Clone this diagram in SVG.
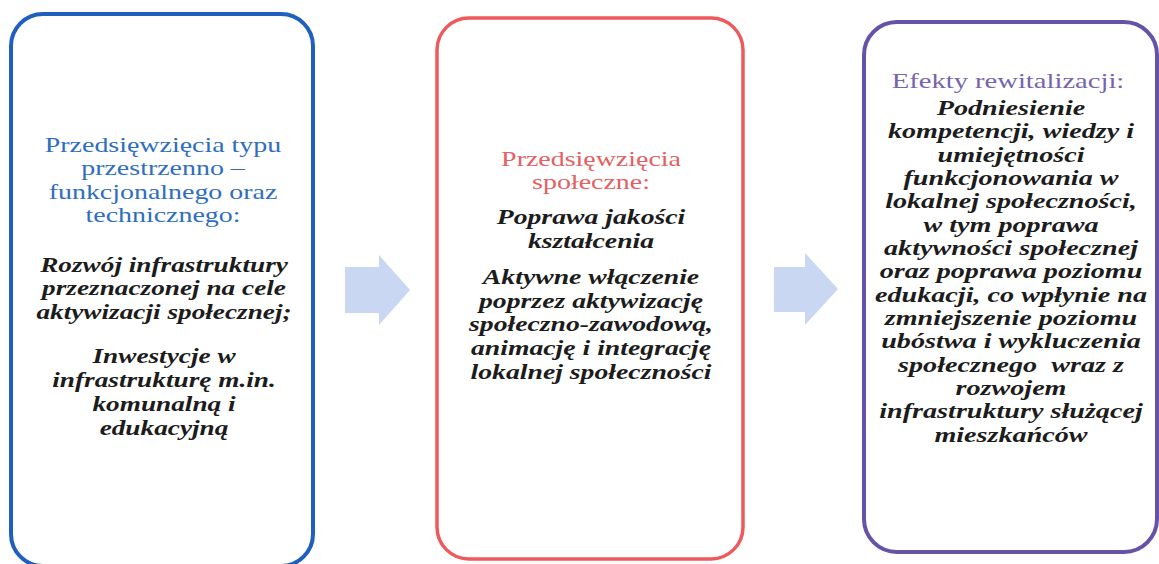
<svg xmlns="http://www.w3.org/2000/svg" width="1159" height="564" viewBox="0 0 1159 564">
<style>
.box{fill:#ffffff;stroke-width:4}
.b1{stroke:#1f5fbd}
.b2{stroke:#ee5a5c;stroke-width:3.5}
.b3{stroke:#6652a6}
.t{font-family:"Liberation Serif","Times New Roman",serif;font-size:22px;text-anchor:middle}
.i{font-style:italic;font-weight:bold;fill:#1c1c1c}
.h1{fill:#2f6ebf}
.h2{fill:#e45f62}
.h3{fill:#7565ad}
.arrow{fill:#cad7f3}
</style>
<rect width="1159" height="564" fill="#ffffff"/>
<g id="connectors">
<path class="arrow" d="M345,267 H379 V255 L410,290 L379,325 V313 H345 Z"/>
<path class="arrow" d="M774,267 H805 V253 L838,289 L805,325 V312 H774 Z"/>
</g>
<g id="node-przestrzenne">
<rect class="box b1" x="11" y="14" width="302" height="552" rx="32"/>
<g class="t h1" transform="translate(163,0) scale(1.27,1)">
<text x="0" y="152">Przedsięwzięcia typu</text>
<text x="0" y="175">przestrzenno –</text>
<text x="0" y="199">funkcjonalnego oraz</text>
<text x="0" y="222">technicznego:</text>
</g>
<g class="t i" transform="translate(164,0) scale(1.24,1)">
<text x="0" y="272">Rozwój infrastruktury</text>
<text x="0" y="295">przeznaczonej na cele</text>
<text x="0" y="319">aktywizacji społecznej;</text>
<text x="0" y="363">Inwestycje w</text>
<text x="0" y="387">infrastrukturę m.in.</text>
<text x="0" y="411">komunalną i</text>
<text x="0" y="435">edukacyjną</text>
</g>
</g>
<g id="node-spoleczne">
<rect class="box b2" x="437" y="18" width="306" height="541" rx="32"/>
<g class="t h2" transform="translate(591,0) scale(1.27,1)">
<text x="0" y="166">Przedsięwzięcia</text>
<text x="0" y="189">społeczne:</text>
</g>
<g class="t i" transform="translate(591,0) scale(1.26,1)">
<text x="0" y="224">Poprawa jakości</text>
<text x="0" y="248">kształcenia</text>
<text x="0" y="284">Aktywne włączenie</text>
<text x="0" y="308">poprzez aktywizację</text>
<text x="0" y="331">społeczno-zawodową,</text>
<text x="0" y="355">animację i integrację</text>
<text x="0" y="379">lokalnej społeczności</text>
</g>
</g>
<g id="node-efekty">
<rect class="box b3" x="864" y="22" width="293" height="530" rx="33"/>
<g class="t h3" transform="translate(1008,0) scale(1.3,1)">
<text x="0" y="88">Efekty rewitalizacji:</text>
</g>
<g class="t i" transform="translate(1011,0) scale(1.28,1)">
<text x="0" y="115">Podniesienie</text>
<text x="0" y="138">kompetencji, wiedzy i</text>
<text x="0" y="162">umiejętności</text>
<text x="0" y="185">funkcjonowania w</text>
<text x="0" y="208">lokalnej społeczności,</text>
<text x="0" y="232">w tym poprawa</text>
<text x="0" y="255">aktywności społecznej</text>
<text x="0" y="278">oraz poprawa poziomu</text>
<text x="0" y="302">edukacji, co wpłynie na</text>
<text x="0" y="325">zmniejszenie poziomu</text>
<text x="0" y="348">ubóstwa i wykluczenia</text>
<text x="0" y="372" xml:space="preserve">społecznego  wraz z</text>
<text x="0" y="395">rozwojem</text>
<text x="0" y="418">infrastruktury służącej</text>
<text x="0" y="442">mieszkańców</text>
</g>
</g>
</svg>
